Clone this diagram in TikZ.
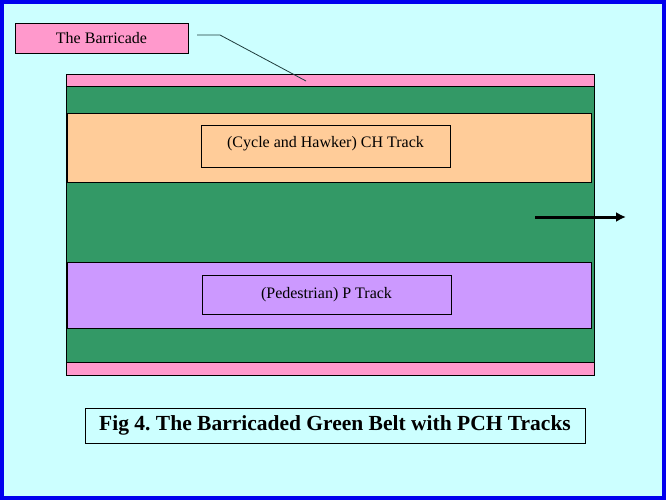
\documentclass[tikz,border=0pt]{standalone}
\usepackage{fontspec}
\setmainfont{Liberation Serif}
\frenchspacing
\usetikzlibrary{arrows.meta,positioning}
\definecolor{gbSky}{RGB}{204,255,255}
\definecolor{gbFrame}{RGB}{0,0,238}
\definecolor{gbPink}{RGB}{255,153,204}
\definecolor{gbGreen}{RGB}{51,153,102}
\definecolor{gbPeach}{RGB}{255,204,153}
\definecolor{gbLilac}{RGB}{204,153,255}
\definecolor{gbLead}{RGB}{30,60,60}
\begin{document}
\begin{tikzpicture}[x=1pt,y=-1pt,>=Latex]
\tikzset{
strip/.style={draw=black,line width=.8pt,inner sep=0pt,anchor=north west},
tag/.style={draw=black,line width=.8pt,inner sep=0pt,font=\fontsize{16}{18}\selectfont,text=black},
captionbox/.style={draw=black,line width=.8pt,inner sep=0pt,font=\bfseries\fontsize{21.5}{24}\selectfont,text=black},
lead/.style={draw=gbLead,line width=.8pt},
dir/.style={draw=black,line width=3pt,arrows={-Latex[length=10pt,width=10pt]}}
}
% background and frame
\fill[gbSky] (0,0) rectangle (666,500);
\draw[gbFrame,line width=4pt] (2,2) rectangle (664,498);
\useasboundingbox (0,0) rectangle (666,500);

% barricade and green belt
\node[strip,fill=gbGreen,minimum width=528,minimum height=288] (belt) at (66,80) {};
\node[strip,fill=gbPink,minimum width=528,minimum height=12] (topbar) at (66,74) {};
\node[strip,fill=gbPink,minimum width=528,minimum height=13] (botbar) at (66,362) {};

% tracks
\node[strip,fill=gbPeach,minimum width=524,minimum height=69] (chtrack) at (67,113) {};
\node[tag,fill=gbPeach,minimum width=249,minimum height=42] (chlab) at (325.5,146) {\raisebox{8pt}{(Cycle and Hawker) CH Track}};
\node[strip,fill=gbLilac,minimum width=524,minimum height=66] (ptrack) at (67,262) {};
\node[tag,fill=gbLilac,minimum width=249,minimum height=39] (plab) at (326.5,294.5) {\raisebox{4pt}{(Pedestrian) P Track}};

% label with leader line
\node[tag,fill=gbPink,minimum width=173,minimum height=30] (barlab) at (101.5,38) {The Barricade};
\coordinate (leadA) at (197,35);
\coordinate (leadB) at (220,35);
\coordinate (leadC) at (306,81);
\draw[lead] (leadA) -- (leadB) -- (leadC);

% direction of flow
\coordinate (flowA) at (535,217);
\coordinate (flowB) at (626,217);
\draw[dir] (flowA) -- (flowB);

% caption
\node[captionbox,minimum width=500,minimum height=35] (caption) at (335,425.5) {Fig 4. The Barricaded Green Belt with PCH Tracks};
\end{tikzpicture}
\end{document}
